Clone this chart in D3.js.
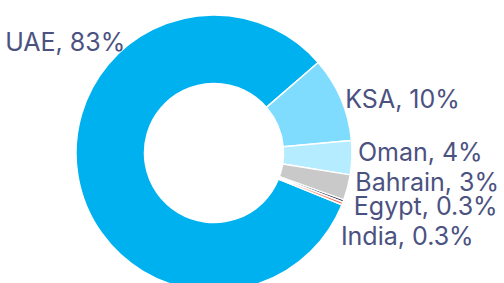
<!DOCTYPE html>
<html>
<head>
<meta charset="utf-8">
<script src="https://cdn.jsdelivr.net/npm/d3@7"></script>
<style>
  html, body { margin: 0; padding: 0; background: #fff; }
  svg { display: block; }
  .label { font-family: Inter, "Noto Sans", sans-serif; font-size: 25px; fill: #4b5280; }
</style>
</head>
<body>
<svg id="chart" width="504" height="283"></svg>
<script>
// data
var countries = ['UAE', 'KSA', 'Oman', 'Bahrain', 'Egypt', 'India'];
var shares = [83, 10, 4, 3, 0.3, 0.3];
var shareLabels = ['83%', '10%', '4%', '3%', '0.3%', '0.3%'];
var colours = ['#00b1f0', '#80dcff', '#b5ecff', '#c9c9c9', '#232d4b', '#f2604d'];

// label placement relative to each slice's outer edge (layout only)
var labelNudge = [
    { dx: 9, dy: 6, anchor: 'end', angle: -42 },
    { dx: -3, dy: 12, anchor: 'start' },
    { dx: -2, dy: 3, anchor: 'start' },
    { dx: 0, dy: 1, anchor: 'start' },
    { dx: 3, dy: 11, anchor: 'start' },
    { dx: -9, dy: 39, anchor: 'start' }
];

var config = {
    cx: 214,
    cy: 153,
    outer: 138,
    inner: 69.5,
    start: 112,
    labelGap: 8
};

var data = countries.map(function(c, i) {
    return { name: c, value: shares[i], text: c + ', ' + shareLabels[i], colour: colours[i], nudge: labelNudge[i] };
});

var rad = Math.PI / 180;

var pie = d3.pie()
    .sort(null)
    .value(function(d) { return d.value; })
    .startAngle(config.start * rad)
    .endAngle(config.start * rad + 2 * Math.PI);

var arc = d3.arc()
    .innerRadius(config.inner)
    .outerRadius(config.outer);

var svg = d3.select('#chart');

var g = svg.append('g')
    .attr('transform', 'translate(' + config.cx + ',' + config.cy + ')');

var arcs = pie(data);

g.selectAll('path.slice')
    .data(arcs)
    .join('path')
    .classed('slice', true)
    .attr('d', arc)
    .attr('fill', function(d) { return d.data.colour; })
    .attr('stroke', '#fff')
    .attr('stroke-width', 1.5)
    .attr('stroke-linejoin', 'round');

function labelAngle(d) {
    var n = d.data.nudge;
    return n.angle != null ? n.angle * rad : (d.startAngle + d.endAngle) / 2;
}

var labelR = config.outer + config.labelGap;

g.selectAll('text.label')
    .data(arcs)
    .join('text')
    .classed('label', true)
    .attr('x', function(d) { return Math.sin(labelAngle(d)) * labelR + d.data.nudge.dx; })
    .attr('y', function(d) { return -Math.cos(labelAngle(d)) * labelR + d.data.nudge.dy; })
    .attr('text-anchor', function(d) { return d.data.nudge.anchor; })
    .text(function(d) { return d.data.text; });
</script>
</body>
</html>
